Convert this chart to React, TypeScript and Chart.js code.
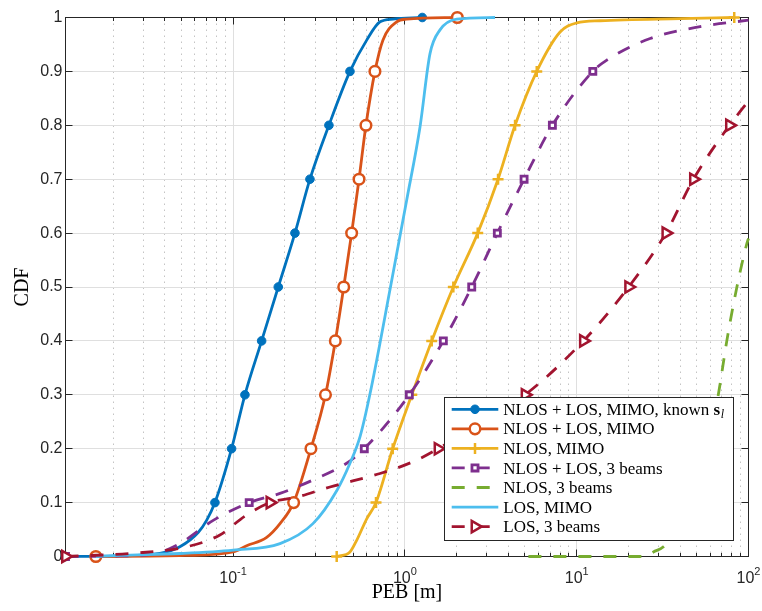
import { useEffect, useRef } from 'react';
import { Chart, registerables } from 'chart.js';

Chart.register(...registerables);

// ---------------- data ----------------
const X_MIN = 0.01058;
const X_MAX = 100;

// NLOS + LOS, MIMO, known s_l
const knownPEB = [0.01058, 0.0219, 0.0375, 0.049, 0.0628, 0.0701, 0.0784, 0.098, 0.1172, 0.1466, 0.1832, 0.2291, 0.2801, 0.3612, 0.4789, 0.5994, 0.7168, 0.8531, 1.262];
const knownCDF = [0, 0.001, 0.0056, 0.018, 0.045, 0.067, 0.1, 0.2, 0.3, 0.4, 0.5, 0.6, 0.7, 0.8, 0.9, 0.958, 0.992, 0.997, 1];

// NLOS + LOS, MIMO
const mimoPEB = [0.01589, 0.0524, 0.1002, 0.1199, 0.1561, 0.1875, 0.2251, 0.2838, 0.3449, 0.3936, 0.4405, 0.4898, 0.5408, 0.5933, 0.6693, 0.7447, 0.8954, 1.024, 2.019];
const mimoCDF = [0, 0.002, 0.0085, 0.02, 0.035, 0.061, 0.1, 0.2, 0.3, 0.4, 0.5, 0.6, 0.7, 0.8, 0.9, 0.958, 0.992, 0.997, 1];

// NLOS, MIMO
const nlosMimoPEB = [0.4009, 0.4789, 0.524, 0.5994, 0.679, 0.8492, 1.0965, 1.4327, 1.914, 2.654, 3.485, 4.378, 5.855, 8.002, 10.02, 13.68, 40.0, 82.6];
const nlosMimoCDF = [0, 0.0085, 0.03, 0.07, 0.1, 0.2, 0.3, 0.4, 0.5, 0.6, 0.7, 0.8, 0.9, 0.973, 0.99, 0.994, 0.998, 1];

// NLOS + LOS, 3 beams
const beamsPEB = [0.01058, 0.0219, 0.0358, 0.049, 0.0766, 0.1241, 0.1875, 0.2924, 0.4583, 0.5804, 1.061, 1.674, 2.449, 3.452, 4.94, 7.219, 12.41, 14.97, 26.77, 52.3, 100];
const beamsCDF = [0, 0.001, 0.006, 0.024, 0.067, 0.1, 0.117, 0.142, 0.173, 0.2, 0.3, 0.4, 0.5, 0.6, 0.7, 0.8, 0.9, 0.921, 0.961, 0.983, 0.995];

// NLOS, 3 beams
const nlosBeamsPEB = [5.234, 10, 23.4, 25.7, 27.97, 31.99, 40.24, 50.27, 60.25, 66.87, 74.86, 85.6, 97.9, 100];
const nlosBeamsCDF = [0, 0, 0, 0.002, 0.0085, 0.018, 0.06, 0.14, 0.23, 0.302, 0.401, 0.5, 0.581, 0.59];

// LOS, MIMO
const losMimoPEB = [0.01589, 0.0219, 0.049, 0.1002, 0.1875, 0.2916, 0.4025, 0.4789, 0.5477, 0.6266, 0.8243, 1.024, 1.2245, 1.4, 1.601, 2.003, 3.347];
const losMimoCDF = [0, 0.002, 0.0056, 0.012, 0.024, 0.061, 0.123, 0.173, 0.222, 0.302, 0.5, 0.661, 0.797, 0.933, 0.977, 0.997, 1];

// LOS, 3 beams
const losBeamsPEB = [0.01058, 0.0261, 0.0536, 0.0838, 0.1172, 0.1638, 0.2344, 0.3664, 0.7168, 1.119, 1.559, 5.006, 10.94, 20.06, 33.03, 47.83, 77.5, 100];
const losBeamsCDF = [0, 0.006, 0.018, 0.04, 0.075, 0.1, 0.11, 0.129, 0.154, 0.176, 0.2, 0.3, 0.4, 0.5, 0.6, 0.7, 0.8, 0.845];

const seriesLabels = [
  'NLOS + LOS, MIMO, known ',
  'NLOS + LOS, MIMO',
  'NLOS, MIMO',
  'NLOS + LOS, 3 beams',
  'NLOS, 3 beams',
  'LOS, MIMO',
  'LOS, 3 beams',
];
const seriesColors = ['#0072BD', '#D95319', '#EDB120', '#7E2F8E', '#77AC30', '#4DBEEE', '#A2142F'];

const xTickValues = [0.1, 1, 10, 100];
const xTickExponents = ['-1', '0', '1', '2'];
const xMinorMultipliers = [2, 3, 4, 5, 6, 7, 8, 9];
const yTickValues = [0, 0.1, 0.2, 0.3, 0.4, 0.5, 0.6, 0.7, 0.8, 0.9, 1];

// ---------------- styles ----------------
type MarkerStyle = { style: string; r: number; bw: number; filled: boolean; rot: number } | null;
const DASH = [13, 12];
const seriesStyles: { dash: number[]; marker: MarkerStyle }[] = [
  { dash: [], marker: { style: 'circle', r: 4.3, bw: 1, filled: true, rot: 0 } },
  { dash: [], marker: { style: 'circle', r: 5.3, bw: 2.5, filled: false, rot: 0 } },
  { dash: [], marker: { style: 'cross', r: 5.5, bw: 2.5, filled: false, rot: 0 } },
  { dash: DASH, marker: { style: 'rect', r: 4.3, bw: 2.8, filled: false, rot: 0 } },
  { dash: DASH, marker: null },
  { dash: [], marker: null },
  { dash: DASH, marker: { style: 'triangle', r: 6.5, bw: 2.5, filled: false, rot: 90 } },
];

const seriesData: [number[], number[]][] = [
  [knownPEB, knownCDF],
  [mimoPEB, mimoCDF],
  [nlosMimoPEB, nlosMimoCDF],
  [beamsPEB, beamsCDF],
  [nlosBeamsPEB, nlosBeamsCDF],
  [losMimoPEB, losMimoCDF],
  [losBeamsPEB, losBeamsCDF],
];

const isLevel = (v: number) => Math.abs(v * 10 - Math.round(v * 10)) < 1e-9;

function drawMarker(ctx: CanvasRenderingContext2D, m: NonNullable<MarkerStyle>, x: number, y: number, color: string) {
  ctx.save();
  ctx.setLineDash([]);
  ctx.lineWidth = m.bw;
  ctx.strokeStyle = color;
  ctx.fillStyle = m.filled ? color : '#ffffff';
  ctx.beginPath();
  if (m.style === 'circle') {
    ctx.arc(x, y, m.r, 0, Math.PI * 2);
    ctx.fill();
    ctx.stroke();
  } else if (m.style === 'rect') {
    const s = m.r * Math.SQRT1_2;
    ctx.rect(x - s, y - s, 2 * s, 2 * s);
    ctx.fill();
    ctx.stroke();
  } else if (m.style === 'cross') {
    ctx.moveTo(x - m.r, y);
    ctx.lineTo(x + m.r, y);
    ctx.moveTo(x, y - m.r);
    ctx.lineTo(x, y + m.r);
    ctx.stroke();
  } else if (m.style === 'triangle') {
    let rad = (m.rot * Math.PI) / 180;
    for (let k = 0; k < 3; k++) {
      const px = x + Math.sin(rad) * m.r;
      const py = y - Math.cos(rad) * m.r;
      if (k === 0) ctx.moveTo(px, py);
      else ctx.lineTo(px, py);
      rad += (2 * Math.PI) / 3;
    }
    ctx.closePath();
    ctx.fill();
    ctx.stroke();
  }
  ctx.restore();
}

const crisp = (v: number) => Math.floor(v) + 0.5;
const AXIS_COLOR = '#262626';
const TICK_FONT = '"Liberation Sans", Arial, Helvetica, sans-serif';
const SERIF = '"Liberation Serif", "Times New Roman", serif';

const matlabAxes = {
  id: 'matlabAxes',
  beforeDatasetsDraw(chart: any) {
    const { ctx, chartArea: a, scales } = chart;
    const xs = scales.x;
    const ys = scales.y;
    ctx.save();
    ctx.lineWidth = 1;
    // minor x grid (dotted)
    ctx.strokeStyle = '#c4c4c4';
    ctx.setLineDash([1.5, 4.5]);
    const decades = [0.01, 0.1, 1, 10];
    for (const d of decades) {
      for (const m of xMinorMultipliers) {
        const v = m * d;
        if (v <= X_MIN || v >= X_MAX) continue;
        const px = crisp(xs.getPixelForValue(v));
        ctx.beginPath();
        ctx.moveTo(px, a.top);
        ctx.lineTo(px, a.bottom);
        ctx.stroke();
      }
    }
    // major grid
    ctx.setLineDash([]);
    ctx.strokeStyle = '#dfdfdf';
    for (const v of xTickValues) {
      if (v >= X_MAX) continue;
      const px = crisp(xs.getPixelForValue(v));
      ctx.beginPath();
      ctx.moveTo(px, a.top);
      ctx.lineTo(px, a.bottom);
      ctx.stroke();
    }
    for (const v of yTickValues) {
      if (v <= 0 || v >= 1) continue;
      const py = crisp(ys.getPixelForValue(v));
      ctx.beginPath();
      ctx.moveTo(a.left, py);
      ctx.lineTo(a.right, py);
      ctx.stroke();
    }
    // box
    ctx.strokeStyle = AXIS_COLOR;
    ctx.strokeRect(a.left, a.top, a.right - a.left, a.bottom - a.top);
    // y ticks
    ctx.beginPath();
    for (const v of yTickValues) {
      const py = crisp(ys.getPixelForValue(v));
      ctx.moveTo(a.left, py);
      ctx.lineTo(a.left + 7, py);
      ctx.moveTo(a.right, py);
      ctx.lineTo(a.right - 7, py);
    }
    // x major ticks
    for (const v of xTickValues) {
      const px = crisp(xs.getPixelForValue(v));
      ctx.moveTo(px, a.bottom);
      ctx.lineTo(px, a.bottom - 7);
      ctx.moveTo(px, a.top);
      ctx.lineTo(px, a.top + 7);
    }
    // x minor ticks
    for (const d of decades) {
      for (const m of xMinorMultipliers) {
        const v = m * d;
        if (v <= X_MIN || v >= X_MAX) continue;
        const px = crisp(xs.getPixelForValue(v));
        ctx.moveTo(px, a.bottom);
        ctx.lineTo(px, a.bottom - 3.5);
        ctx.moveTo(px, a.top);
        ctx.lineTo(px, a.top + 3.5);
      }
    }
    ctx.stroke();
    // x tick labels 10^k
    ctx.fillStyle = AXIS_COLOR;
    ctx.textBaseline = 'alphabetic';
    ctx.textAlign = 'left';
    xTickValues.forEach((v, i) => {
      const px = xs.getPixelForValue(v);
      ctx.font = `16px ${TICK_FONT}`;
      const wb = ctx.measureText('10').width;
      ctx.font = `11px ${TICK_FONT}`;
      const we = ctx.measureText(xTickExponents[i]).width;
      const x0 = px - (wb + we) / 2;
      ctx.font = `16px ${TICK_FONT}`;
      ctx.fillText('10', x0, 583);
      ctx.font = `11px ${TICK_FONT}`;
      ctx.fillText(xTickExponents[i], x0 + wb, 575);
    });
    ctx.restore();
  },
  afterDraw(chart: any) {
    const ctx: CanvasRenderingContext2D = chart.ctx;
    ctx.save();
    const bx = 444.5, by = 397.5, bw = 289, bh = 143;
    ctx.fillStyle = '#ffffff';
    ctx.fillRect(bx, by, bw, bh);
    ctx.strokeStyle = AXIS_COLOR;
    ctx.lineWidth = 1;
    ctx.setLineDash([]);
    ctx.strokeRect(bx, by, bw, bh);
    chart.data.datasets.forEach((ds: any, i: number) => {
      const y = 409.3 + i * 19.55;
      const st = seriesStyles[i];
      ctx.save();
      ctx.strokeStyle = ds.borderColor;
      ctx.lineWidth = ds.borderWidth;
      ctx.lineCap = 'butt';
      ctx.setLineDash(st.dash);
      ctx.beginPath();
      ctx.moveTo(451.7, y);
      ctx.lineTo(498.3, y);
      ctx.stroke();
      ctx.restore();
      if (st.marker) drawMarker(ctx, st.marker, 475, y, ds.borderColor);
      ctx.fillStyle = '#000';
      ctx.textAlign = 'left';
      ctx.textBaseline = 'alphabetic';
      ctx.font = `17px ${SERIF}`;
      const base = y + 5.6;
      ctx.fillText(seriesLabels[i], 503.3, base);
      if (i === 0) {
        let x = 503.3 + ctx.measureText(seriesLabels[i]).width;
        ctx.font = `bold 17px ${SERIF}`;
        ctx.fillText('s', x, base);
        x += ctx.measureText('s').width;
        ctx.font = `italic 12px ${SERIF}`;
        ctx.fillText('l', x + 0.5, base + 3.5);
      }
    });
    ctx.restore();
  },
};

export default function App() {
  const ref = useRef<HTMLCanvasElement | null>(null);
  useEffect(() => {
    const canvas = ref.current;
    if (!canvas) return;
    const datasets = seriesData.map(([xs, ys], i) => {
      const st = seriesStyles[i];
      const color = seriesColors[i];
      const marks = ys.map((v, j) => !!st.marker && isLevel(v) && (v > 0 || j === 0) && (v < 1 || ys.indexOf(v) === j));
      return {
        label: seriesLabels[i],
        data: xs.map((x, j) => ({ x, y: ys[j] })),
        borderColor: color,
        backgroundColor: color,
        borderWidth: 2.8,
        borderDash: st.dash,
        borderCapStyle: 'butt',
        borderJoinStyle: 'round',
        fill: false,
        cubicInterpolationMode: 'monotone',
        pointRadius: marks.map((m) => (m ? st.marker!.r : 0)),
        pointHoverRadius: 0,
        pointHitRadius: 0,
        pointStyle: st.marker ? st.marker.style : 'circle',
        pointRotation: st.marker ? st.marker.rot : 0,
        pointBorderWidth: st.marker ? st.marker.bw : 0,
        pointBorderColor: color,
        pointBackgroundColor: st.marker && st.marker.filled ? color : '#ffffff',
        clip: false,
        order: 10 - i,
      };
    });
    const chart = new Chart(canvas, {
      type: 'line',
      data: { datasets } as any,
      options: {
        animation: false,
        responsive: false,
        maintainAspectRatio: false,
        devicePixelRatio: 1,
        events: [],
        layout: { padding: { left: 0, top: 17.5, right: 13.5, bottom: 0 } },
        plugins: { legend: { display: false }, tooltip: { enabled: false } },
        scales: {
          x: {
            type: 'logarithmic',
            min: X_MIN,
            max: X_MAX,
            grid: { display: false, drawTicks: false },
            border: { display: false },
            ticks: { display: false },
            title: {
              display: true,
              text: 'PEB [m]',
              color: '#000',
              font: { family: SERIF, size: 20 },
              padding: { top: 0, bottom: 6 },
            },
            afterFit: (s: any) => {
              s.height = 54.5;
            },
          },
          y: {
            type: 'linear',
            min: 0,
            max: 1,
            grid: { display: false, drawTicks: false },
            border: { display: false },
            ticks: {
              stepSize: 0.1,
              padding: 3,
              color: AXIS_COLOR,
              font: { family: TICK_FONT, size: 16 },
              callback: (v: any) => String(Math.round(Number(v) * 10) / 10),
            },
            title: {
              display: true,
              text: 'CDF',
              color: '#000',
              font: { family: SERIF, size: 20 },
              padding: { top: 11, bottom: 0 },
            },
            afterFit: (s: any) => {
              s.width = 65.5;
            },
          },
        },
      } as any,
      plugins: [matlabAxes],
    });
    return () => chart.destroy();
  }, []);
  return (
    <div style={{ position: 'fixed', left: 0, top: 0, width: 762, height: 611, background: '#fff' }}>
      <canvas ref={ref} width={762} height={611} style={{ display: 'block', width: 762, height: 611 }} />
    </div>
  );
}
